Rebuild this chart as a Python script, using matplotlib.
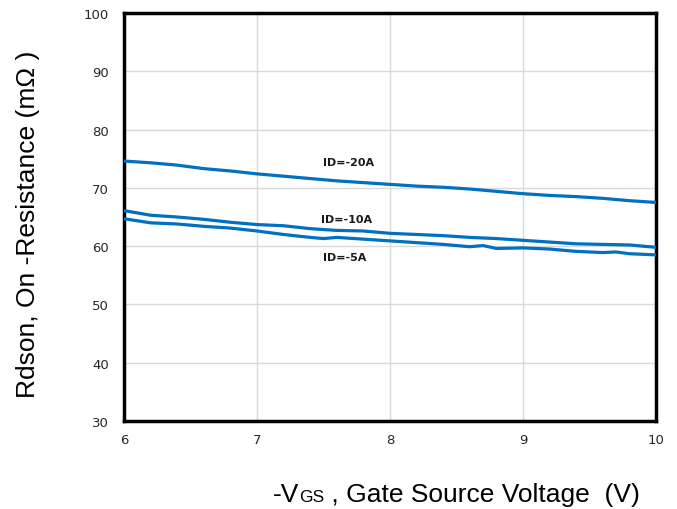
import matplotlib
matplotlib.use("Agg")
import matplotlib.pyplot as plt

# ---- data ----
vgs_20 = [6.0, 6.2, 6.4, 6.6, 6.8, 7.0, 7.2, 7.4, 7.6, 7.8, 8.0, 8.2, 8.4, 8.6, 8.8, 9.0, 9.2, 9.4, 9.6, 9.8, 10.0]
rds_20 = [74.6, 74.3, 73.9, 73.3, 72.9, 72.4, 72.0, 71.6, 71.2, 70.9, 70.6, 70.3, 70.1, 69.8, 69.4, 69.0, 68.7, 68.5, 68.2, 67.8, 67.5]

vgs_10 = [6.0, 6.2, 6.4, 6.6, 6.8, 7.0, 7.2, 7.4, 7.6, 7.8, 8.0, 8.2, 8.4, 8.6, 8.8, 9.0, 9.2, 9.4, 9.6, 9.8, 10.0]
rds_10 = [66.1, 65.3, 65.0, 64.6, 64.1, 63.7, 63.5, 63.0, 62.7, 62.6, 62.2, 62.0, 61.8, 61.5, 61.3, 61.0, 60.7, 60.4, 60.3, 60.2, 59.8]

vgs_5 = [6.0, 6.2, 6.4, 6.6, 6.8, 7.0, 7.2, 7.4, 7.5, 7.6, 7.8, 8.0, 8.2, 8.4, 8.6, 8.7, 8.8, 9.0, 9.2, 9.4, 9.6, 9.7, 9.8, 10.0]
rds_5 = [64.7, 64.0, 63.8, 63.4, 63.1, 62.6, 62.0, 61.5, 61.3, 61.5, 61.2, 60.9, 60.6, 60.3, 59.9, 60.1, 59.6, 59.7, 59.5, 59.1, 58.9, 59.0, 58.7, 58.5]

series_labels = ["ID=-20A", "ID=-10A", "ID=-5A"]
x_ticks = [6, 7, 8, 9, 10]
y_ticks = [30, 40, 50, 60, 70, 80, 90, 100]

line_color = "#0070C0"

fig = plt.figure(figsize=(6.77, 5.10), dpi=100)
ax = fig.add_axes([124 / 677, 1 - 422 / 510, (656 - 124) / 677, (422 - 14) / 510])

for xs, ys in [(vgs_20, rds_20), (vgs_10, rds_10), (vgs_5, rds_5)]:
    ax.plot(xs, ys, color=line_color, lw=2.3, solid_capstyle="butt", zorder=3)

ax.set_xlim(6, 10)
ax.set_ylim(30, 100)
ax.set_xticks(x_ticks)
ax.set_yticks(y_ticks)
ax.grid(True, color="#d9d9d9", lw=1.0, zorder=0)
ax.set_axisbelow(True)
for s in ax.spines.values():
    s.set_linewidth(2.5)
    s.set_color("black")
ax.tick_params(length=0, labelsize=9.5, labelcolor="#262626")
ax.tick_params(axis="y", pad=11)
ax.tick_params(axis="x", pad=9)
for lbl in ax.get_xticklabels() + ax.get_yticklabels():
    lbl.set_family("DejaVu Sans")

# curve annotations
label_pos = [(7.69, 74.4), (7.67, 64.6), (7.66, 58.2)]
for txt, (lx, ly) in zip(series_labels, label_pos):
    ax.text(lx, ly, txt, ha="center", va="center", fontsize=8,
            fontweight="bold", family="DejaVu Sans", color="#1a1a1a", zorder=4)

# y label
fig.text(28 / 677, 1 - 224 / 510, "Rdson, On -Resistance (mΩ )", rotation=90,
         ha="center", va="center", fontsize=19, family="Liberation Sans", color="black")

# x label with small "GS"
base_y = (510 - 502) / 510
t1 = fig.text(273 / 677, base_y, "-V", fontsize=19, family="Liberation Sans",
              ha="left", va="baseline", color="black")
t2 = ax.annotate("GS", xy=(1, base_y), xycoords=(t1, "figure fraction"),
                 ha="left", va="baseline", fontsize=12.5, family="Liberation Sans",
                 color="black", annotation_clip=False)
t3 = ax.annotate(" , Gate Source Voltage  (V)", xy=(1, base_y), xycoords=(t2, "figure fraction"),
                 ha="left", va="baseline", fontsize=19, family="Liberation Sans",
                 color="black", annotation_clip=False)

fig.savefig("out.png", dpi=100)
